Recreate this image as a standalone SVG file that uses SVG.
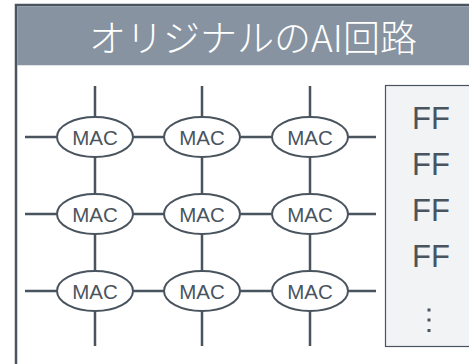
<svg xmlns="http://www.w3.org/2000/svg" width="469" height="364" viewBox="0 0 469 364">
  <defs>
    <style>
      .ln { stroke: #4a545e; stroke-width: 2.5; fill: none; }
      .mac ellipse { fill: #ffffff; stroke: #4a545e; stroke-width: 2; }
      .mac text { font-family: "Liberation Sans", Arial, sans-serif; font-size: 20.5px; fill: #4a545e; text-anchor: middle; }
      .ff { font-family: "Liberation Sans", Arial, sans-serif; font-size: 31px; fill: #4a545e; text-anchor: middle; }
      .title { font-family: "Noto Sans CJK JP", "Noto Sans", sans-serif; font-size: 37px; font-weight: 300; fill: #ffffff; text-anchor: middle; }
    </style>
  </defs>
  <rect width="469" height="364" fill="#ffffff"/>
  <g id="frame">
    <rect x="16" y="5" width="470" height="380" fill="#ffffff" stroke="#4a545e" stroke-width="2.5"/>
    <rect x="17.25" y="6.25" width="470" height="59" fill="#8793a0"/>
    <text class="title" x="253" y="52">オリジナルのAI回路</text>
  </g>
  <g id="connectors" class="ln">
    <path d="M25 137H57 M133 137H164 M240 137H272 M348 137H376"/>
    <path d="M25 214H57 M133 214H164 M240 214H272 M348 214H376"/>
    <path d="M25 291H57 M133 291H164 M240 291H272 M348 291H376"/>
    <path d="M95 86V117 M95 157V194 M95 234V271 M95 311V346"/>
    <path d="M202 86V117 M202 157V194 M202 234V271 M202 311V346"/>
    <path d="M310 86V117 M310 157V194 M310 234V271 M310 311V346"/>
  </g>
  <g id="mac-1-1" class="mac"><ellipse cx="95" cy="137" rx="38" ry="20"/><text x="95" y="144.5">MAC</text></g>
  <g id="mac-1-2" class="mac"><ellipse cx="202" cy="137" rx="38" ry="20"/><text x="202" y="144.5">MAC</text></g>
  <g id="mac-1-3" class="mac"><ellipse cx="310" cy="137" rx="38" ry="20"/><text x="310" y="144.5">MAC</text></g>
  <g id="mac-2-1" class="mac"><ellipse cx="95" cy="214" rx="38" ry="20"/><text x="95" y="221.5">MAC</text></g>
  <g id="mac-2-2" class="mac"><ellipse cx="202" cy="214" rx="38" ry="20"/><text x="202" y="221.5">MAC</text></g>
  <g id="mac-2-3" class="mac"><ellipse cx="310" cy="214" rx="38" ry="20"/><text x="310" y="221.5">MAC</text></g>
  <g id="mac-3-1" class="mac"><ellipse cx="95" cy="291" rx="38" ry="20"/><text x="95" y="298.5">MAC</text></g>
  <g id="mac-3-2" class="mac"><ellipse cx="202" cy="291" rx="38" ry="20"/><text x="202" y="298.5">MAC</text></g>
  <g id="mac-3-3" class="mac"><ellipse cx="310" cy="291" rx="38" ry="20"/><text x="310" y="298.5">MAC</text></g>
  <g id="ff-box">
    <rect x="385.5" y="85.5" width="100" height="261" fill="#f2f3f5" stroke="#4a545e" stroke-width="1.2"/>
    <text class="ff" x="431" y="129">FF</text>
    <text class="ff" x="431" y="175">FF</text>
    <text class="ff" x="431" y="221">FF</text>
    <text class="ff" x="431" y="267">FF</text>
    <g fill="#4a545e">
      <rect x="427.5" y="308.5" width="3" height="3"/>
      <rect x="427.5" y="318.5" width="3" height="3"/>
      <rect x="427.5" y="329" width="3" height="3"/>
    </g>
  </g>
</svg>
